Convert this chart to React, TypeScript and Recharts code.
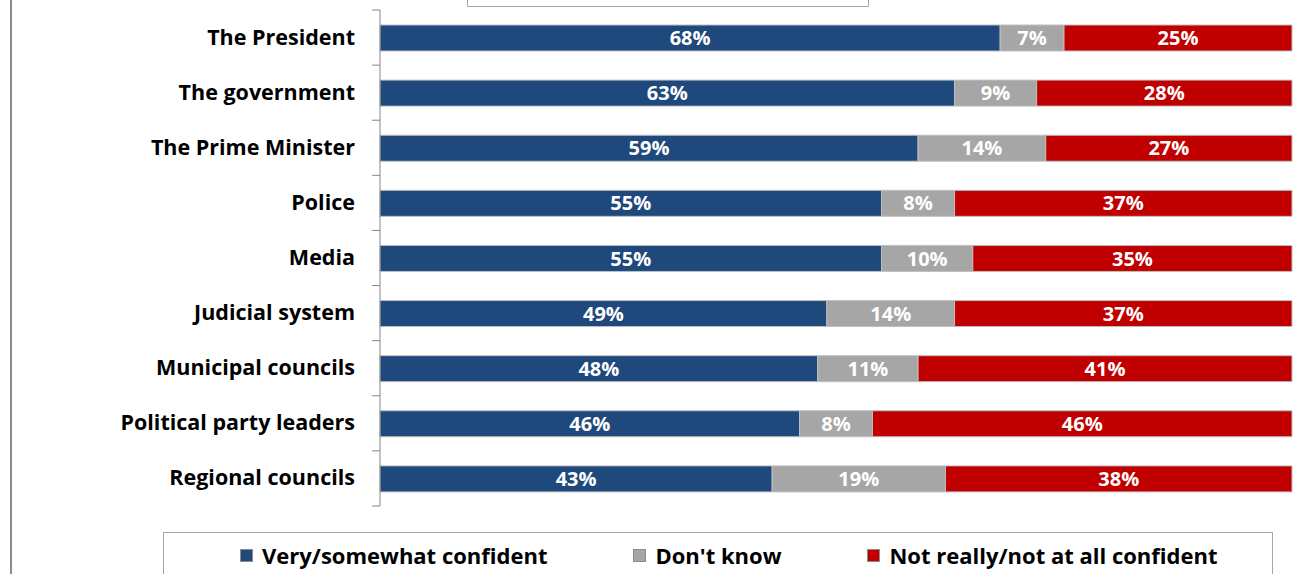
import { BarChart, Bar, XAxis, YAxis, LabelList } from 'recharts'

const categories = [
  'The President',
  'The government',
  'The Prime Minister',
  'Police',
  'Media',
  'Judicial system',
  'Municipal councils',
  'Political party leaders',
  'Regional councils',
]
const confident = [68, 63, 59, 55, 55, 49, 48, 46, 43]
const dontKnow = [7, 9, 14, 8, 10, 14, 11, 8, 19]
const notConfident = [25, 28, 27, 37, 35, 37, 41, 46, 38]

const SERIES = [
  { key: 'confident', name: 'Very/somewhat confident', color: '#1F497D' },
  { key: 'dontKnow', name: "Don't know", color: '#A6A6A6' },
  { key: 'notConfident', name: 'Not really/not at all confident', color: '#C00000' },
]

const data = categories.map((c, i) => ({
  name: c,
  confident: confident[i],
  dontKnow: dontKnow[i],
  notConfident: notConfident[i],
}))

const FONT = '"Open Sans", "Liberation Sans", Arial, sans-serif'
const W = 1296
const H = 574
const AXIS_X = 380
const TOP = 10
const BOTTOM = 68
const BAND = (H - TOP - BOTTOM) / categories.length

// category label plus the boundary tick marks between rows
function CategoryTick(props: any) {
  const { y, payload, index } = props
  const up = y - BAND / 2
  const down = y + BAND / 2
  return (
    <g>
      <line x1={AXIS_X - 8} x2={AXIS_X} y1={up} y2={up} stroke="#868686" />
      {index === categories.length - 1 && (
        <line x1={AXIS_X - 8} x2={AXIS_X} y1={down} y2={down} stroke="#868686" />
      )}
      <text
        x={355}
        y={y}
        dy={7}
        textAnchor="end"
        fill="#000"
        fontSize={21.5}
        fontWeight="bold"
        fontFamily={FONT}
      >
        {payload.value}
      </text>
    </g>
  )
}

export default function App() {
  return (
    <div style={{ position: 'fixed', left: 0, top: 0, width: W, height: H, overflow: 'hidden', background: '#fff' }}>
      {/* outer frame line on the left */}
      <div style={{ position: 'absolute', left: 10, top: 0, width: 2, height: H, background: '#8c8c8c' }} />
      {/* title box, cut off at the top */}
      <div style={{ position: 'absolute', left: 467, top: -40, width: 400, height: 45, border: '1px solid #a6a6a6', zIndex: 2 }} />

      <BarChart
        width={W}
        height={H}
        data={data}
        layout="vertical"
        margin={{ top: TOP, right: 4, bottom: BOTTOM, left: 10 }}
        barSize={26}
      >
        <XAxis type="number" domain={[0, 100]} hide />
        <YAxis
          type="category"
          dataKey="name"
          width={AXIS_X - 10}
          axisLine={{ stroke: '#868686' }}
          tickLine={false}
          tick={<CategoryTick />}
          interval={0}
        />
        {SERIES.map(s => (
          <Bar
            key={s.key}
            dataKey={s.key}
            stackId="a"
            fill={s.color}
            stroke="#BFBFBF"
            strokeWidth={1}
            isAnimationActive={false}
          >
            <LabelList
              dataKey={s.key}
              position="center"
              formatter={(v: any) => `${v}%`}
              fill="#fff"
              fontSize={20}
              fontWeight="bold"
              fontFamily={FONT}
            />
          </Bar>
        ))}
      </BarChart>

      {/* Legend */}
      <div
        style={{
          position: 'absolute',
          left: 163,
          top: 532,
          width: 1110,
          height: 60,
          border: '1px solid #a6a6a6',
          display: 'flex',
          justifyContent: 'flex-start',
          alignItems: 'flex-start',
          paddingTop: 7,
          paddingLeft: 76,
          boxSizing: 'border-box',
          gap: 86,
          fontFamily: FONT,
          fontWeight: 'bold',
          fontSize: 22,
          color: '#000',
        }}
      >
        {SERIES.map(s => (
          <div key={s.key} style={{ display: 'flex', alignItems: 'center', gap: 9 }}>
            <div style={{ width: 11, height: 11, background: s.color, border: '1px solid #8c8c8c' }} />
            <span>{s.name}</span>
          </div>
        ))}
      </div>
    </div>
  )
}
